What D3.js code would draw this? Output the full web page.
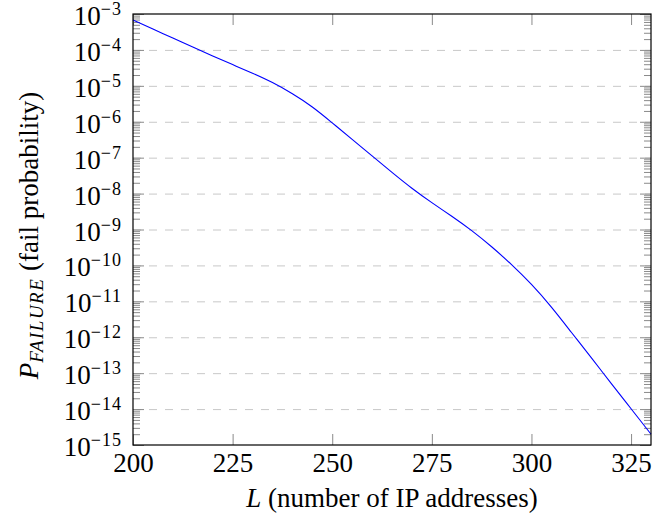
<!DOCTYPE html>
<html>
<head>
<meta charset="utf-8">
<script src="https://cdn.jsdelivr.net/npm/d3@7"></script>
<style>
  body { margin: 0; background: #fff; }
  text { font-family: "Liberation Serif", "Times New Roman", serif; fill: #000; }
</style>
</head>
<body>
<div id="chart"></div>
<script>
// Data
var lValues = [200, 205, 210, 215, 220, 225, 230, 235, 240, 245, 250, 255, 260, 265,
               270, 275, 280, 285, 290, 295, 300, 305, 310, 315, 320, 325, 330];
var failProb = [6.8e-4, 3.8e-4, 2.14e-4, 1.2e-4, 6.8e-5, 3.9e-5, 2.24e-5, 1.23e-5, 6.0e-6,
                2.57e-6, 9.3e-7, 3.24e-7, 1.12e-7, 3.9e-8, 1.41e-8, 5.6e-9, 2.34e-9, 9.3e-10,
                3.3e-10, 1.05e-10, 2.95e-11, 6.9e-12, 1.38e-12, 2.7e-13, 5.2e-14, 1.02e-14, 2.0e-15];
var xTicks = [200, 225, 250, 275, 300, 325];
var yExponents = [-3, -4, -5, -6, -7, -8, -9, -10, -11, -12, -13, -14, -15];

// Set svg dimensions
var margin = {top: 14, right: 21, bottom: 72, left: 133};
const width = 672;
const height = 517;
var plotWidth = width - margin.left - margin.right;
var plotHeight = height - margin.top - margin.bottom;

var svg = d3.select("#chart")
            .append("svg")
                .attr("width", width)
                .attr("height", height)
            .append("g")
                .attr("transform", "translate(" + margin.left + "," + margin.top + ")");

var scaleX = d3.scaleLinear().domain([200, 330]).range([0, plotWidth]);
var scaleY = d3.scaleLog().domain([1e-15, 1e-3]).range([plotHeight, 0]);

var decades = yExponents.map(function(e) { return Math.pow(10, e); });
var minors = [];
yExponents.slice(1).forEach(function(e) {
    for (var k = 2; k <= 9; k++) minors.push(k * Math.pow(10, e));
});

// Dashed gridlines at each decade
svg.append("g")
    .attr("class", "grid")
    .call(d3.axisLeft(scaleY).tickValues(decades.slice(1, -1)).tickSize(-plotWidth).tickFormat(""))
    .call(function(g) {
        g.select(".domain").remove();
        g.selectAll("line").attr("stroke", "#c8c8c8").attr("stroke-dasharray", "8,8");
    });

// Minor and major y ticks, left and right, pointing inward
function yTicks(axisFn, values, size, x) {
    svg.append("g")
        .attr("transform", "translate(" + x + ",0)")
        .call(axisFn(scaleY).tickValues(values).tickSize(size).tickFormat(""))
        .call(function(g) {
            g.select(".domain").remove();
            g.selectAll("line").attr("stroke", "#8a8a8a");
        });
}
yTicks(d3.axisLeft, minors, -7, 0);
yTicks(d3.axisRight, minors, -7, plotWidth);
yTicks(d3.axisLeft, decades, -11, 0);
yTicks(d3.axisRight, decades, -11, plotWidth);

// X ticks bottom and top
svg.append("g")
    .attr("transform", "translate(0," + plotHeight + ")")
    .call(d3.axisBottom(scaleX).tickValues(xTicks).tickSize(-11).tickPadding(8))
    .call(function(g) {
        g.select(".domain").remove();
        g.selectAll("line").attr("stroke", "#8a8a8a");
        g.selectAll("text").attr("font-size", 27).attr("font-family", "Liberation Serif");
    });
svg.append("g")
    .call(d3.axisTop(scaleX).tickValues(xTicks).tickSize(-11).tickFormat(""))
    .call(function(g) {
        g.select(".domain").remove();
        g.selectAll("line").attr("stroke", "#8a8a8a");
    });

// Y tick labels as 10^e
var yLabels = svg.append("g").attr("class", "ylabels");
yExponents.forEach(function(e) {
    var t = yLabels.append("text")
        .attr("x", -11)
        .attr("y", scaleY(Math.pow(10, e)) + 11)
        .attr("text-anchor", "end")
        .attr("font-size", 27);
    t.append("tspan").text("10");
    t.append("tspan").attr("font-size", 18).attr("dy", -10).attr("letter-spacing", 1)
        .text("\u2212" + Math.abs(e));
});

// Curve
var line = d3.line()
    .x(function(d, i) { return scaleX(lValues[i]); })
    .y(function(d) { return scaleY(d); })
    .curve(d3.curveNatural);

svg.append("path")
    .datum(failProb)
    .attr("fill", "none")
    .attr("stroke", "#0000ff")
    .attr("stroke-width", 1.1)
    .attr("d", line);

// Frame
svg.append("rect")
    .attr("width", plotWidth)
    .attr("height", plotHeight)
    .attr("fill", "none")
    .attr("stroke", "#000")
    .attr("stroke-width", 1.2);

// Axis labels
var xLab = svg.append("text")
    .attr("x", plotWidth / 2)
    .attr("y", plotHeight + 62)
    .attr("text-anchor", "middle")
    .attr("font-size", 27);
xLab.append("tspan").attr("font-style", "italic").text("L");
xLab.append("tspan").text(" (number of IP addresses)");

var yLab = svg.append("text")
    .attr("transform", "translate(" + (38 - margin.left) + "," + (plotHeight / 2 + 6) + ") rotate(-90)")
    .attr("text-anchor", "middle")
    .attr("font-size", 27);
yLab.append("tspan").attr("font-style", "italic").text("P");
yLab.append("tspan").attr("font-style", "italic").attr("font-size", 19).attr("dy", 5)
    .attr("letter-spacing", 1.5).text("FAILURE");
yLab.append("tspan").attr("dy", -5).text(" (fail probability)");
</script>
</body>
</html>
